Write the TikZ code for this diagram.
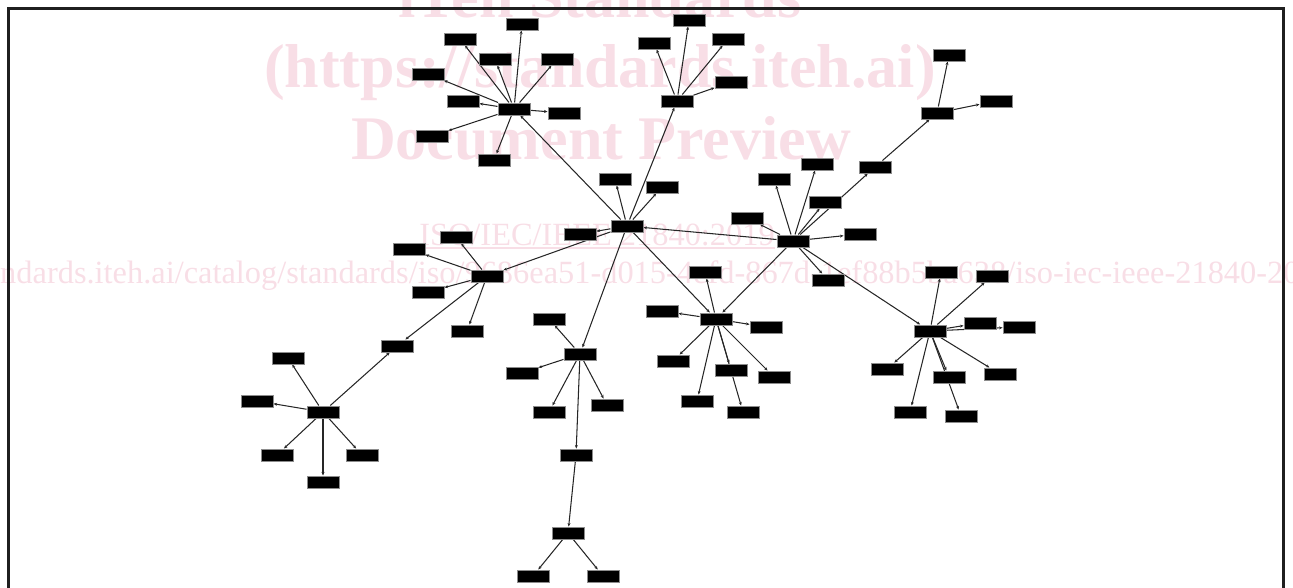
\documentclass[tikz,border=0pt]{standalone}
\usepackage{fontspec}
\setmainfont{Liberation Serif}
\usetikzlibrary{arrows.meta}
\pgfdeclarelayer{wm}
\pgfdeclarelayer{edges}
\pgfsetlayers{wm,edges,main}
\definecolor{wmpink}{RGB}{248,222,230}
\begin{document}
\begin{tikzpicture}[x=1pt,y=-1pt,
  box/.style={rectangle,fill=black,draw=black!45,line width=0.5pt,minimum width=32.5pt,minimum height=12.5pt,inner sep=0pt},
  edge/.style={draw=black!85,line width=1.05pt,-{Stealth[length=3.5pt,width=3pt]}},
  wmbig/.style={text=wmpink,inner sep=0pt,anchor=base,font=\bfseries\fontsize{62pt}{62pt}\selectfont},
  wmsmall/.style={text=wmpink,inner sep=0pt,font=\fontsize{32.4pt}{32.4pt}\selectfont}]
\useasboundingbox (0,0) rectangle (1293,587);
% watermark
\begin{pgfonlayer}{wm}
\node[wmbig] (w1) at (600,17) {iTeh Standards};
\node[wmbig] (w2) at (600,87) {(https://standards.iteh.ai)};
\node[wmbig] (w3) at (601,159) {Document Preview};
\node[wmsmall,anchor=base] (w4) at (597,245) {ISO/IEC/IEEE 21840:2019};
\draw[wmpink,line width=1.5pt] ([yshift=-3pt]w4.base west) -- ([yshift=-3pt]w4.base east);
\node[wmsmall,anchor=base west] (w5) at (-126,283) {https://standards.iteh.ai/catalog/standards/iso/9686ea51-d015-4efd-867d-1ef88b5ba638/iso-iec-ieee-21840-2019};
\end{pgfonlayer}
% frame
\draw[black!88,line width=3pt] (8.5,600) -- (8.5,8) -- (1283.5,8) -- (1283.5,600);
% hubs
\node[box] (A) at (514,109) {};
\node[box] (B) at (627,226) {};
\node[box] (C) at (677,101) {};
\node[box] (D) at (487,276) {};
\node[box] (E) at (580,354) {};
\node[box] (F) at (716,319) {};
\node[box] (G) at (793,241) {};
\node[box] (H) at (323,412) {};
\node[box] (I) at (930,331) {};
\node[box] (J) at (937,113) {};
\node[box] (X) at (397,346) {};
% A leaves
\node[box] (a1) at (522,24) {};
\node[box] (a2) at (460,39) {};
\node[box] (a3) at (495,59) {};
\node[box] (a4) at (557,59) {};
\node[box] (a5) at (428,74) {};
\node[box] (a6) at (463,101) {};
\node[box] (a7) at (564,113) {};
\node[box] (a8) at (432,136) {};
\node[box] (a9) at (494,160) {};
% B leaves
\node[box] (b1) at (615,179) {};
\node[box] (b2) at (662,187) {};
\node[box] (b3) at (580,234) {};
% C leaves
\node[box] (c1) at (689,20) {};
\node[box] (c2) at (654,43) {};
\node[box] (c3) at (728,39) {};
\node[box] (c4) at (731,82) {};
% D leaves
\node[box] (d1) at (409,249) {};
\node[box] (d2) at (456,237) {};
\node[box] (d3) at (428,292) {};
\node[box] (d4) at (467,331) {};
% H leaves
\node[box] (h1) at (288,358) {};
\node[box] (h2) at (257,401) {};
\node[box] (h3) at (277,455) {};
\node[box] (h4) at (362,455) {};
\node[box] (h5) at (323,482) {};
% E leaves
\node[box] (e1) at (549,319) {};
\node[box] (e2) at (522,373) {};
\node[box] (e3) at (549,412) {};
\node[box] (e4) at (607,405) {};
\node[box] (e5) at (576,455) {};
\node[box] (e6) at (568,533) {};
\node[box] (e7) at (533,576) {};
\node[box] (e8) at (603,576) {};
% F leaves
\node[box] (f1) at (705,272) {};
\node[box] (f2) at (662,311) {};
\node[box] (f3) at (766,327) {};
\node[box] (f4) at (673,361) {};
\node[box] (f5) at (731,370) {};
\node[box] (f6) at (774,377) {};
\node[box] (f7) at (697,401) {};
\node[box] (f8) at (743,412) {};
% G leaves
\node[box] (g1) at (747,218) {};
\node[box] (g2) at (774,179) {};
\node[box] (g3) at (817,164) {};
\node[box] (g4) at (825,202) {};
\node[box] (g5) at (860,234) {};
\node[box] (g6) at (828,280) {};
\node[box] (g7) at (875,167) {};
% J leaves
\node[box] (j1) at (949,55) {};
\node[box] (j2) at (996,101) {};
% I leaves
\node[box] (i1) at (941,272) {};
\node[box] (i2) at (992,276) {};
\node[box] (i3) at (980,323) {};
\node[box] (i4) at (1019,327) {};
\node[box] (i5) at (887,369) {};
\node[box] (i6) at (949,377) {};
\node[box] (i7) at (1000,374) {};
\node[box] (i8) at (910,412) {};
\node[box] (i9) at (961,416) {};
% edges
\begin{pgfonlayer}{edges}
\foreach \s/\t in {A/a1,A/a2,A/a3,A/a4,A/a5,A/a6,A/a7,A/a8,A/a9,
  B/b1,B/b2,B/b3,B/A,B/C,B/D,B/E,B/F,
  C/c1,C/c2,C/c3,C/c4,
  D/d1,D/d2,D/d3,D/d4,D/X,H/X,
  H/h1,H/h2,H/h3,H/h4,H/h5,
  E/e1,E/e2,E/e3,E/e4,E/e5,e5/e6,e6/e7,e6/e8,
  F/f1,F/f2,F/f3,F/f4,F/f5,F/f6,F/f7,F/f8,
  G/B,G/F,G/I,G/g1,G/g2,G/g3,G/g4,G/g5,G/g6,G/g7,g7/J,J/j1,J/j2,
  I/i1,I/i2,I/i3,I/i4,I/i5,I/i6,I/i7,I/i8,I/i9}
  \draw[edge] (\s) -- (\t);
\end{pgfonlayer}
\end{tikzpicture}
\end{document}
